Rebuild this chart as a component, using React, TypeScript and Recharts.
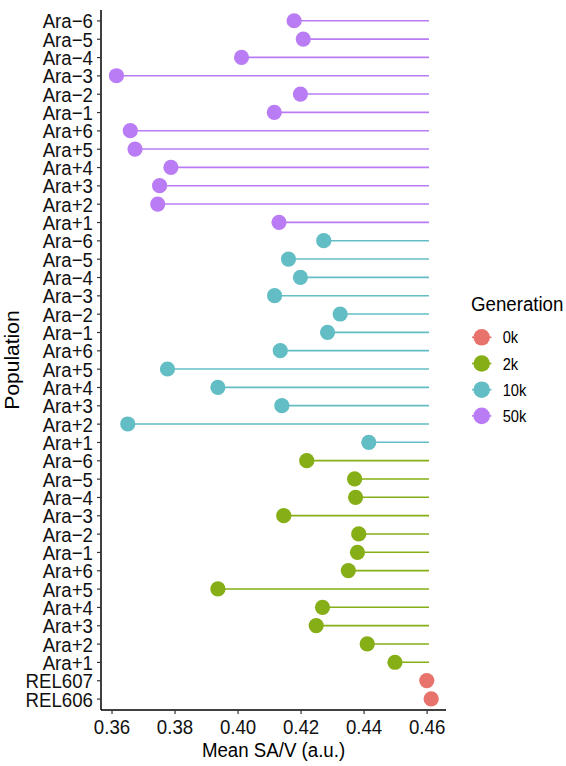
import { ComposedChart, Bar, XAxis, YAxis, Label } from 'recharts';

// population labels, top to bottom inside each generation block
const LINES = ['Ara−6', 'Ara−5', 'Ara−4', 'Ara−3', 'Ara−2', 'Ara−1', 'Ara+6', 'Ara+5', 'Ara+4', 'Ara+3', 'Ara+2', 'Ara+1'];
const GEN_50K = [0.4178, 0.4207, 0.4011, 0.3614, 0.4198, 0.4115, 0.3658, 0.3673, 0.3787, 0.3751, 0.3745, 0.4130];
const GEN_10K = [0.4272, 0.4160, 0.4198, 0.4116, 0.4324, 0.4284, 0.4134, 0.3776, 0.3936, 0.4139, 0.3650, 0.4415];
const GEN_2K = [0.4218, 0.4370, 0.4373, 0.4145, 0.4383, 0.4379, 0.4350, 0.3936, 0.4268, 0.4248, 0.4410, 0.4498];
const ANCESTORS = ['REL607', 'REL606'];
const GEN_0K = [0.4599, 0.4613];
const ANCESTOR_MEAN = 0.4606;

const GENERATIONS = ['0k', '2k', '10k', '50k'];
const COLORS: Record<string, string> = {
  '0k': '#E8736D',
  '2k': '#86AE16',
  '10k': '#62BEC4',
  '50k': '#B97CF4'
};

const X_TICKS = [0.36, 0.38, 0.40, 0.42, 0.44, 0.46];

const FONT = '"Liberation Sans", Arial, Helvetica, sans-serif';
const SQUEEZE = 0.89;

const rows = [
  ...LINES.map((name, i) => ({ name, gen: '50k', value: GEN_50K[i] })),
  ...LINES.map((name, i) => ({ name, gen: '10k', value: GEN_10K[i] })),
  ...LINES.map((name, i) => ({ name, gen: '2k', value: GEN_2K[i] })),
  ...ANCESTORS.map((name, i) => ({ name, gen: '0k', value: GEN_0K[i] }))
].map((r, i) => ({ ...r, id: `row-${i}` }));

const labelOf = (id: string) => rows.find(r => r.id === id)?.name ?? id;

// segment from the point to the ancestral mean, dot at the point
const Lollipop = (props: any) => {
  const { x, y, width, height, payload } = props;
  const cy = y + height / 2;
  const color = COLORS[payload.gen];
  const cx = payload.value <= ANCESTOR_MEAN ? x : x + width;
  return (
    <g>
      <line x1={x} x2={x + width} y1={cy} y2={cy} stroke={color} strokeWidth={1.6} />
      <circle cx={cx} cy={cy} r={7.6} fill={color} />
    </g>
  );
};

const YTick = ({ x, y, payload }: any) => (
  <text
    transform={`translate(${x},${y}) scale(${SQUEEZE},1)`}
    textAnchor="end"
    dy="0.355em"
    fontSize={21}
    fontFamily={FONT}
    fill="#111"
  >
    {labelOf(payload.value)}
  </text>
);

const XTick = ({ x, y, payload }: any) => (
  <text
    transform={`translate(${x},${y}) scale(${SQUEEZE},1)`}
    textAnchor="middle"
    dy="0.71em"
    fontSize={21}
    fontFamily={FONT}
    fill="#111"
  >
    {Number(payload.value).toFixed(2)}
  </text>
);

const ChartLegend = () => (
  <svg width={110} height={150} style={{ position: 'absolute', left: 456, top: 285 }}>
    <text
      transform={`translate(15,26) scale(${SQUEEZE},1)`}
      fontSize={21}
      fontFamily={FONT}
      fill="#000"
    >
      Generation
    </text>
    {GENERATIONS.map((g, i) => {
      const cy = 52.3 + i * 26.2;
      return (
        <g key={g}>
          <line x1={16} x2={35.5} y1={cy} y2={cy} stroke={COLORS[g]} strokeWidth={1.6} />
          <circle cx={25.7} cy={cy} r={8.3} fill={COLORS[g]} />
          <text
            transform={`translate(46.7,${cy + 6}) scale(${SQUEEZE},1)`}
            fontSize={16.5}
            fontFamily={FONT}
            fill="#000"
          >
            {g}
          </text>
        </g>
      );
    })}
  </svg>
);

export default function App() {
  return (
    <div style={{ position: 'absolute', left: 0, top: 0, width: 566, height: 766, background: '#fff' }}>
      <ComposedChart
        width={566}
        height={766}
        data={rows}
        layout="vertical"
        margin={{ top: 10, right: 120, bottom: 0, left: 0 }}
      >
        <XAxis
          type="number"
          domain={[0.3565, 0.466]}
          ticks={X_TICKS}
          allowDataOverflow
          height={56}
          stroke="#000"
          axisLine={{ stroke: '#000', strokeWidth: 1.5 }}
          tickLine={{ stroke: '#333', strokeWidth: 1.2 }}
          tickSize={4}
          tickMargin={5}
          tick={<XTick />}
        >
          <Label
            content={({ viewBox }: any) => (
              <text
                transform={`translate(${viewBox.x + viewBox.width / 2},757) scale(${SQUEEZE},1)`}
                textAnchor="middle"
                fontSize={21}
                fontFamily={FONT}
                fill="#000"
              >
                Mean SA/V (a.u.)
              </text>
            )}
          />
        </XAxis>
        <YAxis
          type="category"
          dataKey="id"
          width={101}
          interval={0}
          padding={{ top: 1.75, bottom: 1.75 }}
          axisLine={{ stroke: '#000', strokeWidth: 1.5 }}
          tickLine={{ stroke: '#333', strokeWidth: 1.2 }}
          tickSize={4}
          tickMargin={4}
          tick={<YTick />}
        >
          <Label
            content={({ viewBox }: any) => (
              <text
                transform={`translate(11,${viewBox.y + viewBox.height / 2}) rotate(-90)`}
                textAnchor="middle"
                dominantBaseline="central"
                fontSize={21}
                fontFamily={FONT}
                fill="#000"
              >
                Population
              </text>
            )}
          />
        </YAxis>
        <Bar
          dataKey={(d: any) => [Math.min(d.value, ANCESTOR_MEAN), Math.max(d.value, ANCESTOR_MEAN)]}
          barSize={14}
          shape={<Lollipop />}
          isAnimationActive={false}
        />
      </ComposedChart>
      <ChartLegend />
    </div>
  );
}
